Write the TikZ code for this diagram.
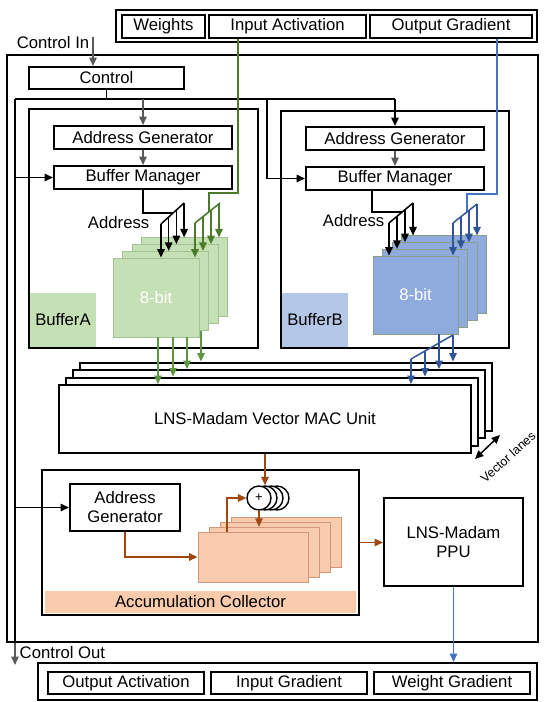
\documentclass[tikz,border=0pt]{standalone}
\usepackage{fontspec}
\setmainfont{Liberation Sans}
\usetikzlibrary{arrows.meta,calc}
\definecolor{grnFill}{HTML}{C5E0B4}
\definecolor{grnEdge}{HTML}{A3C393}
\definecolor{grnLine}{HTML}{4A7A2A}
\definecolor{grnLineB}{HTML}{5D9640}
\definecolor{bluFill}{HTML}{8FAADC}
\definecolor{bluLabel}{HTML}{B4C7E7}
\definecolor{bluEdge}{HTML}{8A9E8A}
\definecolor{bluLine}{HTML}{2F5597}
\definecolor{bluLineB}{HTML}{4472C4}
\definecolor{orgFill}{HTML}{F8CBAD}
\definecolor{orgEdge}{HTML}{D4967A}
\definecolor{brnLine}{HTML}{9E480E}
\definecolor{ctlGray}{HTML}{595959}
\newcommand{\planeDx}{9.5}
\newcommand{\planeDy}{6.7}
\newcommand{\fontMain}{\fontsize{16.7}{19}\selectfont}
\tikzset{
  blk/.style={draw, line width=2pt, inner sep=0pt, font=\fontMain},
  plane/.style={line width=0.9pt, inner sep=0pt, minimum width=86, minimum height=79},
  tip/.style={-{Triangle[length=8.5pt,width=7.5pt]}},
}

\begin{document}
\begin{tikzpicture}[x=1pt,y=-1pt,line width=1.5pt]
\useasboundingbox (0,0) rectangle (556,702);

\node[blk, minimum width=421, minimum height=32] (inbox) at (326.5,26) {};
\node[blk, minimum width=83, minimum height=23] (wts) at (163.5,26.5) {Weights};
\node[blk, minimum width=157, minimum height=23] (iact) at (287.5,26.5) {Input Activation};
\node[blk, minimum width=162, minimum height=23] (ograd) at (451,26.5) {Output Gradient};

\node[draw, line width=2.2pt, minimum width=531, minimum height=587] (chip) at (272.5,348.5) {};
\node[font=\fontMain, anchor=east, inner sep=0] (ctlin) at (90,43) {Control In};
\node[blk, minimum width=155, minimum height=22] (ctrl) at (106.5,78) {Control};

% buffer A
\node[fill=grnFill, minimum width=66, minimum height=55, inner sep=0, font=\fontMain] (labA) at (63,320) {BufferA};
\node[blk, minimum width=229, minimum height=239] (bufA) at (143.5,228.5) {};
\node[blk, minimum width=178, minimum height=23] (agA) at (143,137.5) {Address Generator};
\node[blk, minimum width=178, minimum height=23] (bmA) at (143,177.5) {Buffer Manager};
\foreach \k in {3,2,1,0}
  \node[plane, fill=grnFill, draw=grnEdge] (pA\k) at ({156+\planeDx*\k},{297.5-\planeDy*\k}) {};
\node[text=white, font=\fontMain] at (pA0) {8-bit};
\node[font=\fontMain, anchor=east, inner sep=0] (adrA) at (150,223) {Address};

% buffer B
\node[fill=bluLabel, minimum width=66, minimum height=54, inner sep=0, font=\fontMain] (labB) at (315,320) {BufferB};
\node[blk, minimum width=228, minimum height=237] (bufB) at (395,229.5) {};
\node[blk, minimum width=178, minimum height=23] (agB) at (395,138.5) {Address Generator};
\node[blk, minimum width=178, minimum height=23] (bmB) at (395,178.5) {Buffer Manager};
\foreach \k in {3,2,1,0}
  \node[plane, fill=bluFill, draw=bluEdge, minimum width=85, minimum height=78] (pB\k) at ({415.5+\planeDx*\k},{295-\planeDy*\k}) {};
\node[text=white, font=\fontMain] at (pB0) {8-bit};
\node[font=\fontMain, anchor=east, inner sep=0] (adrB) at (385,221) {Address};

% control wiring
\coordinate (cin) at (93,37);
\coordinate (cbus) at (15,99);
\coordinate (cB) at (267,99);
\draw[tip, ctlGray] (cin) -- (cin |- ctrl.north);
\draw (ctrl.south) -- (ctrl.south |- cbus);
\draw (cbus) -- (agB.north |- cbus);
\draw[tip, ctlGray] (agA.north |- cbus) -- (agA.north);
\draw[tip] (agB.north |- cbus) -- (agB.north);
\draw[tip] (cB) |- (bmB.west);
\draw[tip] (cbus |- bmA.west) -- (bmA.west);
\draw[tip, ctlGray] (agA.south) -- (bmA.north);
\draw[tip, ctlGray] (agB.south) -- (bmB.north);

% address fans
\coordinate (fanA) at (161,224);
\draw (bmA.south) |- ($(fanA)+(12.1,-11)$);
\draw (fanA) -- ++(23.1,-21);
\foreach \k in {0,...,3} {
  \path (fanA) ++(7.7*\k,-7*\k) coordinate (tA\k);
  \draw[tip] (tA\k) -- (tA\k |- pA\k.north);
}
\coordinate (aTapB) at (372,212);
\coordinate (fanB) at (389,223);
\draw (aTapB |- bmB.south) -- (aTapB) -- ++(30.2,0);
\draw (fanB) -- ++(24,-20);
\foreach \k in {0,...,3} {
  \path (fanB) ++(8*\k,-6.67*\k) coordinate (tB\k);
  \draw[tip] (tB\k) -- (tB\k |- pB\k.north);
}

% data fans
\coordinate (gTap) at (238,193);
\coordinate (gFan) at (195,223);
\draw[grnLine] (gTap |- iact.south) -- (gTap) -| ($(gFan)+(14,-11.2)$);
\draw[grnLine] (gFan) -- ++(25,-20);
\foreach \k in {0,...,3} {
  \path (gFan) ++(8*\k,-6.4*\k) coordinate (tG\k);
  \draw[tip, grnLine] (tG\k) -- (tG\k |- pA\k.north);
}
\coordinate (bTap) at (497,194);
\coordinate (bFan) at (453,223);
\draw[bluLineB] (bTap |- ograd.south) -- (bTap) -| ($(bFan)+(14,-11.1)$);
\draw[bluLine] (bFan) -- ++(24,-19);
\foreach \k in {0,...,3} {
  \path (bFan) ++(8*\k,-6.33*\k) coordinate (tF\k);
  \draw[tip, bluLine] (tF\k) -- (tF\k |- pB\k.north);
}

% MAC unit
\foreach \k in {3,2,1,0}
  \node[draw, line width=2pt, fill=white, inner sep=0, minimum width=412, minimum height=68] (mac\k) at ({265+7*\k},{419-7.5*\k}) {};
\node[font=\fontMain] (macT) at (mac0) {LNS-Madam Vector MAC Unit};
\foreach \x/\k/\s in {158/0/0,173/1/0,187/2/0,201/3/1}
  \draw[tip, grnLineB] (\x,0 |- pA\s.south) -- (\x,0 |- mac\k.north);
\coordinate (mFan) at (411,359);
\draw[bluLine] (mFan) -- ++(42,-24);
\draw[bluLine] (439,0 |- pB0.south) -- (439,343);
\foreach \k in {0,...,3} {
  \path (mFan) ++(14*\k,-8*\k) coordinate (tM\k);
  \draw[tip, bluLine] (tM\k) -- (tM\k |- mac\k.north);
}
\draw[{Triangle[length=8.5pt,width=7.5pt]}-{Triangle[length=8.5pt,width=7.5pt]}] (475,459) -- (500,435);
\node[rotate=42, font=\fontsize{12.5}{14}\selectfont, inner sep=0] (vlanes) at (508,457) {Vector lanes};

% accumulation collector
\node[fill=orgFill, minimum width=311, minimum height=22, inner sep=0, font=\fontMain] (accLab) at (200.5,602) {Accumulation Collector};
\node[blk, minimum width=317, minimum height=145] (acc) at (200.5,542.5) {};
\node[blk, minimum width=110, minimum height=47, align=center] (agC) at (125,507.5) {Address\\Generator};
\foreach \k in {3,2,1,0}
  \node[draw=orgEdge, fill=orgFill, line width=0.9pt, inner sep=0, minimum width=110, minimum height=50] (pC\k) at ({253+11.3*\k},{557-4.7*\k}) {};
\foreach \k in {3,2,1,0}
  \node[circle, draw, fill=white, line width=1.4pt, minimum size=24, inner sep=0] (add\k) at ({259+6*\k},498) {};
\node[font=\fontsize{13}{14}\selectfont, inner sep=0] (plus) at (add0) {+};
\draw[tip, brnLine] (add1.north |- mac0.south) -- (add1.north);
\draw[tip, brnLine] (227,0 |- pC0.north) |- (add0.west);
\draw[tip, brnLine] (add0.south) -- (add0.south |- pC1.north);
\draw[tip, brnLine] (agC.south) |- (pC0.west);
\draw[tip] (cbus |- agC.west) -- (agC.west);

\node[blk, minimum width=139, minimum height=88, align=center] (ppu) at (453.5,542) {LNS-Madam\\PPU};
\draw[tip, brnLine] (acc.east) -- (acc.east -| ppu.west);

% outputs
\node[blk, minimum width=499, minimum height=37] (outbox) at (287.5,681.5) {};
\node[blk, minimum width=156, minimum height=22] (oact) at (126,683) {Output Activation};
\node[blk, minimum width=156, minimum height=22] (igrad) at (289,683) {Input Gradient};
\node[blk, minimum width=156, minimum height=22] (wgrad) at (452,683) {Weight Gradient};
\draw[tip, bluLineB] (ppu.south) -- (ppu.south |- outbox.north);
\draw (cbus) -- (cbus |- chip.south);
\draw[tip, ctlGray] (cbus |- chip.south) -- (15,665);
\node[font=\fontMain, anchor=west, inner sep=0] (ctlout) at (19,653) {Control Out};
\end{tikzpicture}
\end{document}
